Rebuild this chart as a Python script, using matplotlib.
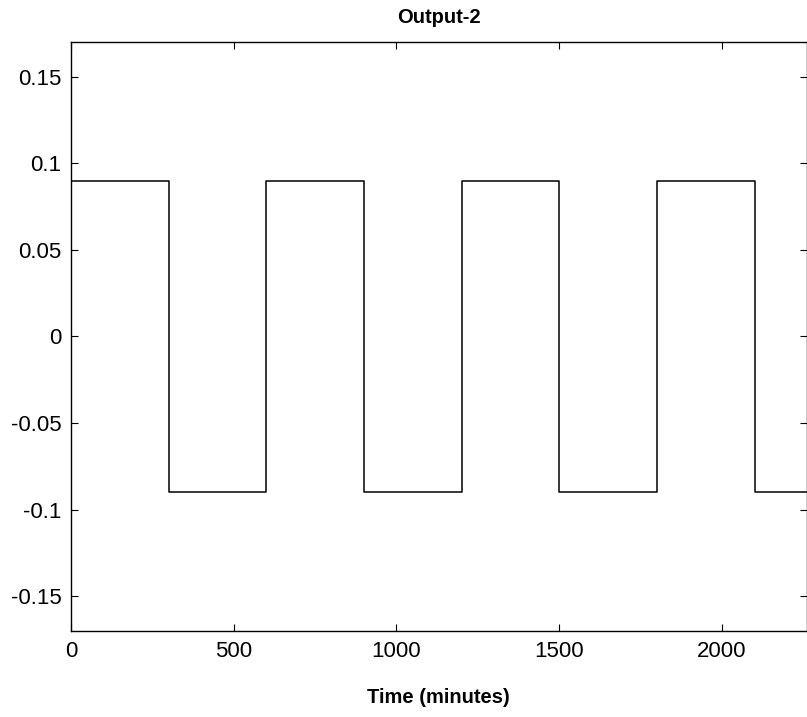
import numpy as np
import matplotlib.pyplot as plt

plt.rcParams['font.family'] = ['Liberation Sans', 'DejaVu Sans']

# switching times (minutes) and output level held from each time on
switch_times = [0, 300, 600, 900, 1200, 1500, 1800, 2100, 2260]
levels = [0.09, -0.09, 0.09, -0.09, 0.09, -0.09, 0.09, -0.09, -0.09]
x_ticks = [0, 500, 1000, 1500, 2000]
y_ticks = [-0.15, -0.1, -0.05, 0, 0.05, 0.1, 0.15]
y_tick_labels = ['-0.15', '-0.1', '-0.05', '0', '0.05', '0.1', '0.15']

fig = plt.figure(figsize=(8.07, 7.17), dpi=100)
ax = fig.add_axes([0.088, 0.12, 0.9115, 0.8214])

ax.step(switch_times, levels, where='post', color='black', linewidth=1.1)

ax.set_xlim(0, 2260)
ax.set_ylim(-0.17, 0.17)
ax.set_xticks(x_ticks)
ax.set_yticks(y_ticks)
ax.set_yticklabels(y_tick_labels)
ax.tick_params(direction='in', top=True, right=True, length=5, width=0.8,
               labelsize=16, pad=7)
for s in ax.spines.values():
    s.set_linewidth(1.0)

ax.set_title('Output-2', fontsize=14.5, fontweight='bold', pad=14)
ax.set_xlabel('Time (minutes)', fontsize=14.5, fontweight='bold', labelpad=19)

fig.savefig('out.png', dpi=100)
